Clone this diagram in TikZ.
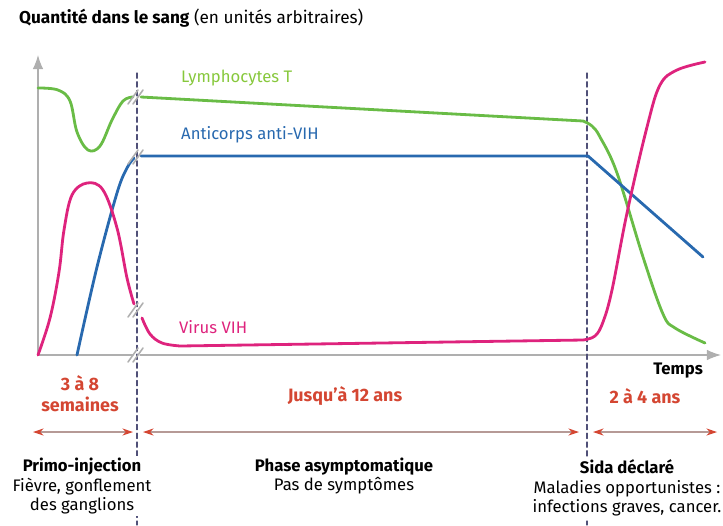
\documentclass[tikz,border=0pt]{standalone}
\usepackage{fontspec}
\setmainfont{Fira Sans}
\usetikzlibrary{arrows.meta}
\definecolor{vertL}{RGB}{105,188,70}
\definecolor{vertT}{RGB}{135,200,60}
\definecolor{bleuA}{RGB}{40,105,175}
\definecolor{roseV}{RGB}{222,35,125}
\definecolor{rougeT}{RGB}{212,70,50}
\definecolor{grisA}{RGB}{175,175,175}
\definecolor{tirets}{RGB}{80,80,120}
\begin{document}
\begin{tikzpicture}[x=0.02cm,y=-0.02cm,font=\fontsize{9.5}{11.2}\selectfont, line join=round, line cap=round, >=stealth,
	courbe/.style={line width=1.6pt},
	axe/.style={draw=grisA, line width=0.7pt},
	coupure/.style={draw=grisA, line width=0.9pt},
	phase/.style={fill=white, align=center, inner sep=1pt},
	duree/.style={draw=grisA!80!rougeT, line width=0.6pt, {Stealth[color=rougeT,length=6pt,width=4pt]}-{Stealth[color=rougeT,length=6pt,width=4pt]}},
	rouge/.style={text=rougeT, font=\fontsize{10.2}{11.8}\selectfont\bfseries, align=center}]
	\useasboundingbox (0,0) rectangle (723,525);
	% axes
	\draw[axe, -{Latex[length=8pt,width=6pt]}] (38,355) -- (38,55);
	\draw[axe] (38,355) -- (133,355);
	\draw[axe, -{Latex[length=8pt,width=6pt]}] (140,355) -- (721,355);
	% phases
	\draw[tirets, dashed, dash pattern=on 3pt off 2pt, line width=0.7pt] (137,73) -- (137,525) (587,73) -- (587,525);
	% lymphocytes T
	\draw[courbe, vertL] plot[smooth, tension=0.6] coordinates {(38,88) (58,90) (70,101) (77,132) (88,150) (100,146) (112,120) (123,101) (133,97)};
	\draw[courbe, vertL] (141,97) -- (583,121) plot[smooth, tension=0.6] coordinates {(583,121) (592,126) (600,137) (617,173) (643,257) (663,314) (675,328) (705,343)};
	% anticorps
	\draw[courbe, bleuA] plot[smooth, tension=0.6] coordinates {(77,355) (97,267) (117,193) (127,168) (134,158)};
	\draw[courbe, bleuA] (141,156) -- (588,156) -- (703,257);
	% virus
	\draw[courbe, roseV] plot[smooth, tension=0.6] coordinates {(38,355) (50,318) (59,272) (64,230) (72,195) (87,183) (103,190) (117,228) (127,278) (134,304)};
	\draw[courbe, roseV] plot[smooth, tension=0.6] coordinates {(142,318) (150,334) (162,343) (180,346)} -- (583,340) plot[smooth, tension=0.6] coordinates {(583,340) (595,336) (603,322) (612,290) (627,213) (647,127) (660,85) (677,70) (705,62)};
	% coupures
	\foreach \y in {97,157,310,355}
		\draw[coupure] (128,\y+7) -- (138,\y-7) (133,\y+7) -- (143,\y-7);
	% textes
	\node[anchor=west, font=\fontsize{9.8}{11.6}\selectfont] (titre) at (13,18) {\textbf{Quantité dans le sang} (en unités arbitraires)};
	\node[anchor=west, text=vertT] (lympho) at (175,78) {Lymphocytes T};
	\node[anchor=west, text=bleuA] (anticorps) at (175,135) {Anticorps anti-VIH};
	\node[anchor=west, text=roseV] (virus) at (173,327) {Virus VIH};
	\node[anchor=east, font=\fontsize{9.5}{11.2}\selectfont\bfseries] (temps) at (709,371) {Temps};
	\node[rouge] (semaines) at (80,394) {3 à 8\\semaines};
	\node[rouge] (jusqua) at (345,396) {Jusqu’à 12 ans};
	\node[rouge] (ans) at (645,396) {2 à 4 ans};
	% durees
	\coordinate (d1) at (33,432); \coordinate (f1) at (133,432);
	\coordinate (d2) at (143,432); \coordinate (f2) at (579,432);
	\coordinate (d3) at (593,432); \coordinate (f3) at (717,432);
	\draw[duree] (d1) -- (f1);
	\draw[duree] (d2) -- (f2);
	\draw[duree] (d3) -- (f3);
	\node[phase] (primo) at (82,486) {\textbf{Primo-injection}\\Fièvre, gonflement\\des ganglions};
	\node[phase] (asympto) at (344,476) {\textbf{Phase asymptomatique}\\Pas de symptômes};
	\node[phase] (sida) at (627,488) {\textbf{Sida déclaré}\\Maladies opportunistes :\\infections graves, cancer.};
\end{tikzpicture}
\end{document}
